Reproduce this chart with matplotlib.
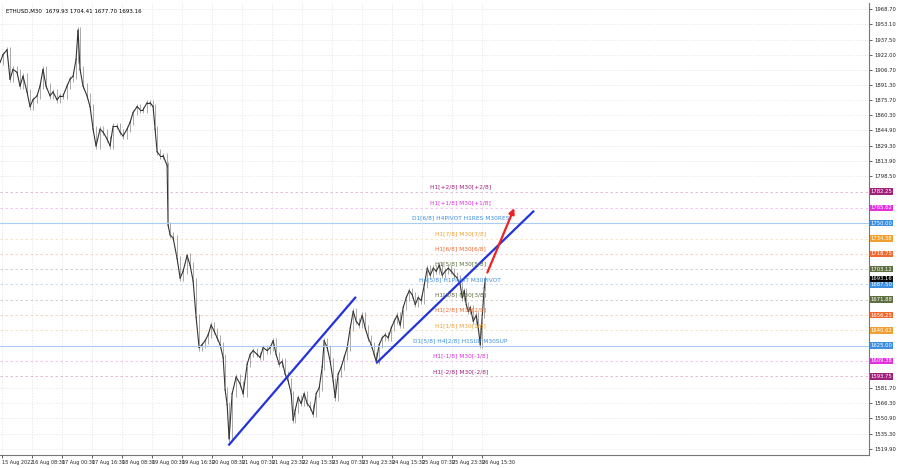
import matplotlib
matplotlib.use("Agg")
import matplotlib.pyplot as plt

# bar positions (chart columns) and close prices
bars = [0,3,7,10,13,17,20,23,27,30,33,37,40,43,46,50,53,57,60,63,67,70,73,76,78,80,83,87,90,93,96,100,103,107,110,113,117,120,123,127,130,133,137,140,143,147,150,153,155,157,160,163,167,168,170,173,177,180,183,187,190,193,196,199,202,205,208,211,214,217,220,223,225,227,229,232,236,240,243,247,250,253,257,260,263,267,270,273,276,279,282,285,288,291,293,295,298,301,304,307,310,313,316,319,322,324,327,330,333,335,338,341,344,347,350,353,356,359,362,365,368,371,374,376,379,382,385,388,391,394,397,400,403,406,409,412,415,418,421,424,427,430,433,436,439,442,445,448,451,454,457,460,462,464,466,468,470,473,476,478,480,482,484,485]
closes = [1914,1922,1927,1897,1907,1904,1890,1900,1884,1869,1876,1880,1890,1907,1890,1880,1884,1876,1880,1880,1890,1897,1900,1917,1947,1907,1890,1880,1869,1846,1829,1846,1843,1836,1829,1849,1849,1843,1839,1846,1853,1863,1869,1866,1866,1873,1873,1869,1846,1823,1819,1819,1809,1748,1738,1735,1714,1694,1701,1717,1707,1691,1654,1623,1626,1630,1636,1646,1640,1633,1626,1613,1580,1565,1530,1576,1593,1586,1576,1606,1616,1620,1616,1613,1623,1620,1623,1630,1616,1606,1609,1596,1589,1576,1549,1559,1572,1566,1576,1566,1562,1555,1576,1582,1603,1630,1623,1609,1589,1572,1596,1603,1613,1623,1643,1660,1650,1646,1656,1643,1633,1626,1616,1609,1626,1633,1636,1633,1643,1650,1656,1646,1664,1674,1681,1677,1667,1674,1671,1687,1704,1697,1704,1701,1707,1697,1701,1704,1701,1697,1694,1687,1674,1681,1667,1660,1664,1650,1656,1643,1626,1656,1684,1693.16]

tick_prices = [1968.70,1953.10,1937.50,1922.00,1906.70,1891.30,1875.70,1860.30,1844.90,1829.30,1813.90,1798.50,1581.70,1566.30,1550.90,1535.30,1519.90]
tick_pos = [2+30*i for i in range(17)]
tick_labels = ["15 Aug 2022","16 Aug 08:30","17 Aug 00:30","17 Aug 16:30","18 Aug 08:30","19 Aug 00:30","19 Aug 16:30","20 Aug 08:30","21 Aug 07:30","21 Aug 23:30","22 Aug 15:30","23 Aug 07:30","23 Aug 23:30","24 Aug 15:30","25 Aug 07:30","25 Aug 23:30","26 Aug 15:30"]

level_prices = [1782.25,1765.62,1750.00,1734.38,1718.75,1703.12,1687.50,1671.88,1656.25,1640.62,1625.00,1609.38,1593.75]
level_names = ["H1[+2/8] M30[+2/8]","H1[+1/8] M30[+1/8]","D1[6/8] H4PIVOT H1RES M30RES","H1[7/8] M30[7/8]","H1[6/8] M30[6/8]","H1[5/8] M30[5/8]","H4[5/8] H1PIVOT M30PIVOT","H1[3/8] M30[3/8]","H1[2/8] M30[2/8]","H1[1/8] M30[1/8]","D1[5/8] H4[2/8] H1SUP M30SUP","H1[-1/8] M30[-1/8]","H1[-2/8] M30[-2/8]"]
level_colors = ["#a0207a","#e030e0","#3c8ee0","#f0a030","#f06a30","#5e7040","#3c8ee0","#5e7040","#f06a30","#f0a030","#3c8ee0","#e030e0","#a0207a"]

trend1_x, trend1_y = [229,355], [1524,1674]
trend2_x, trend2_y = [377,533], [1608,1762]
arrow_x, arrow_y = [486,515], [1697,1768]
last_price = 1693.16

fig = plt.figure(figsize=(9,4.68), dpi=100)
ax = fig.add_axes([0.0, 0.028, 0.965, 0.965])
ax.set_xlim(0, 868)
ax.set_ylim(1513.5, 1974.5)

for i in range(1, len(bars)):
    o, c = closes[i-1], closes[i]
    ax.plot([bars[i-1], bars[i]], [o, c], color="#333333", lw=0.8)
    ax.vlines(bars[i], min(o,c)-3, max(o,c)+3, color="#888888", lw=0.5)

for p, n, col in zip(level_prices, level_names, level_colors):
    if p in (1750.00, 1625.00):
        ax.axhline(p, color="#a8cdf0", lw=0.8, ls="-")
    else:
        ax.axhline(p, color=col, lw=0.6, ls=(0,(3,3)), alpha=0.35)
    ax.text(460, p+2.5, n, color=col, fontsize=4.2, ha="center", va="bottom")
    ax.text(870, p, f"{p:.2f}", color="white", fontsize=3.8, ha="left", va="center",
            clip_on=False, bbox=dict(boxstyle="square,pad=0.15", fc=col, ec="none"))
ax.text(870, last_price, f"{last_price:.2f}", color="white", fontsize=3.8, ha="left", va="center",
        clip_on=False, bbox=dict(boxstyle="square,pad=0.15", fc="black", ec="none"))

ax.plot(trend1_x, trend1_y, color="#2233dd", lw=1.6)
ax.plot(trend2_x, trend2_y, color="#2233dd", lw=1.6)
ax.annotate("", xy=(arrow_x[1], arrow_y[1]), xytext=(arrow_x[0], arrow_y[0]),
            arrowprops=dict(arrowstyle="-|>", color="#ee2222", lw=1.6, mutation_scale=8))

ax.yaxis.tick_right()
ax.set_yticks(tick_prices)
ax.set_yticklabels([f"{v:.2f}" for v in tick_prices], fontsize=3.8)
ax.set_xticks(tick_pos)
ax.set_xticklabels(tick_labels, fontsize=3.5, ha="left")
ax.tick_params(length=2, width=0.5, pad=2, colors="#222222")
ax.grid(True, color="#e2e2e2", lw=0.5, ls=(0,(2,2)))
for s in ["top", "left"]:
    ax.spines[s].set_visible(False)
ax.spines["right"].set_color("#777777")
ax.spines["bottom"].set_color("#777777")
ax.text(6, 1966, "ETHUSD,M30  1679.93 1704.41 1677.70 1693.16", fontsize=4, va="center")
fig.savefig("out.png", dpi=100)
